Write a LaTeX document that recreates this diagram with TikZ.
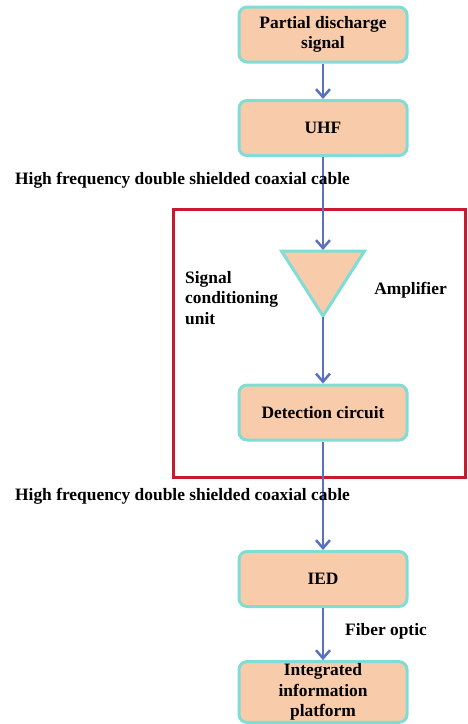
\documentclass[tikz,border=0pt]{standalone}
\usepackage{fontspec}
\setmainfont{Liberation Serif}
\usetikzlibrary{arrows.meta}
\definecolor{boxfill}{HTML}{F8CBAA}
\definecolor{boxedge}{HTML}{80DDD6}
\definecolor{flow}{HTML}{5A70C0}
\definecolor{unitred}{HTML}{C8192F}
\tikzset{
  every node/.style={font=\fontsize{17.4}{20.5}\selectfont\bfseries},
  stagebox/.style={draw=boxedge, fill=boxfill, line width=3pt, rounded corners=8pt,
    minimum width=168pt, minimum height=55pt, align=center, inner sep=2pt},
  flowarrow/.style={draw=flow, line width=2.5pt, -{Straight Barb[length=8pt,width=14pt,line width=2.5pt]}},
  caption/.style={align=left, inner sep=0pt},
}
\begin{document}
\begin{tikzpicture}[x=1pt,y=-1pt]
\useasboundingbox (0,0) rectangle (467,724);

% signal conditioning unit frame
\draw[unitred, line width=3pt] (173,209) rectangle (465,477);

% processing stages
\node[stagebox] (pd)  at (323,34.5) {Partial discharge\\signal};
\node[stagebox] (uhf) at (323,128) {UHF};
\node[stagebox] (det) at (323,412.5) {Detection circuit};
\node[stagebox] (ied) at (323,579) {IED};
\node[stagebox] (iip) at (323,692) {Integrated\\information\\platform};

% amplifier symbol
\draw[draw=boxedge, fill=boxfill, line width=3pt, line join=miter]
  (281.5,251) -- (364.5,251) -- (323,316) -- cycle;
\coordinate (ampin)  at (323,250);
\coordinate (ampout) at (323,317);

% connectors
\draw[flowarrow] (pd.south) -- (uhf.north);
\draw[flowarrow] (uhf.south) -- (ampin);
\draw[flowarrow] (ampout) -- (det.north);
\draw[flowarrow] (det.south) -- (ied.north);
\draw[flowarrow] (ied.south) -- (iip.north);

% labels
\node[caption] (cab1) at (182.5,180) {High frequency double shielded coaxial cable};
\node[caption] (cab2) at (182.5,496) {High frequency double shielded coaxial cable};
\node[caption, anchor=west] (scu) at (185,298) {Signal\\conditioning\\unit};
\node[caption] (amp) at (410.5,290) {Amplifier};
\node[caption] (fib) at (386,631) {Fiber optic};
\end{tikzpicture}
\end{document}
